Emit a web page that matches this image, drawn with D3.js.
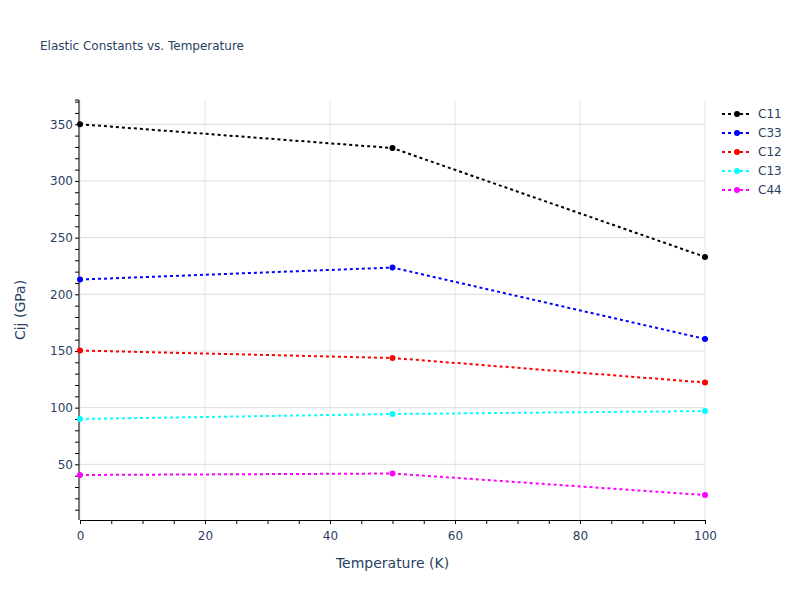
<!DOCTYPE html>
<html><head><meta charset="utf-8">
<script src="https://cdn.jsdelivr.net/npm/d3@7"></script>
<style>body{margin:0;background:#fff;font-family:"DejaVu Sans",sans-serif;}</style>
</head><body><svg id="c" width="800" height="600"></svg>
<script>
const temperatures = [0, 50, 100];
const seriesNames = ["C11", "C33", "C12", "C13", "C44"];
const seriesColors = ["#000000", "#0000ff", "#ff0000", "#00ffff", "#ff00ff"];
const C11 = [350, 329, 233];
const C33 = [213, 223.6, 160.6];
const C12 = [150.4, 143.8, 122.2];
const C13 = [90, 94.4, 97];
const C44 = [40.6, 41.9, 22.9];
const seriesValues = [C11, C33, C12, C13, C44];
const xTicks = [0, 20, 40, 60, 80, 100];
const yTicks = [50, 100, 150, 200, 250, 300, 350];

const FONT = "DejaVu Sans";
const svg = d3.select("#c");
const txt = "#2a3f5f";
const L = 80, R = 705, T = 100, B = 520;
const x = d3.scaleLinear().domain([0, 100]).range([L, R]);
const y = d3.scaleLinear().domain([0.9, 371.4]).range([B, T]);

// grid
svg.append("g").selectAll("line").data(xTicks).join("line")
  .attr("x1", d => x(d)).attr("x2", d => x(d)).attr("y1", T).attr("y2", B)
  .attr("stroke", "#e5e5e5").attr("stroke-width", 1);
svg.append("g").selectAll("line").data(yTicks).join("line")
  .attr("x1", L).attr("x2", R).attr("y1", d => y(d)).attr("y2", d => y(d))
  .attr("stroke", "#dcdcdc").attr("stroke-width", 1);

// axes
const xAxis = d3.axisBottom(x).tickValues(d3.range(0, 101, 5)).tickSize(4)
  .tickFormat(d => xTicks.includes(d) ? d : "");
const gx = svg.append("g").attr("transform", `translate(0,${B})`).call(xAxis);
gx.select(".domain").attr("stroke", "#000");
gx.selectAll(".tick line").attr("stroke", "#000");
gx.selectAll("text").attr("fill", txt).attr("font-size", 12).attr("font-family", FONT).attr("dy", "1.1em");

const yAxis = d3.axisLeft(y).tickValues(d3.range(10, 371, 10)).tickSize(4)
  .tickFormat(d => yTicks.includes(d) ? d : "");
const gy = svg.append("g").attr("transform", `translate(${L - 1},0)`).call(yAxis);
gy.select(".domain").attr("stroke", "#000").attr("d", `M-4,${T}H0V${B}`);
gy.selectAll(".tick line").attr("stroke", "#000");
gy.selectAll("text").attr("fill", txt).attr("font-size", 12).attr("font-family", FONT).attr("x", -6);

// lines
const line = d3.line().x((d, i) => x(temperatures[i])).y(d => y(d));
seriesValues.forEach((vals, k) => {
  svg.append("path").datum(vals).attr("d", line)
    .attr("fill", "none").attr("stroke", seriesColors[k]).attr("stroke-width", 2)
    .attr("stroke-dasharray", "3,3");
  svg.append("g").selectAll("circle").data(vals).join("circle")
    .attr("cx", (d, i) => x(temperatures[i])).attr("cy", d => y(d)).attr("r", 3)
    .attr("fill", seriesColors[k]);
});

// legend
const lg = svg.append("g");
seriesNames.forEach((n, k) => {
  const yy = 114 + k * 19;
  lg.append("line").attr("x1", 722).attr("x2", 752).attr("y1", yy).attr("y2", yy)
    .attr("stroke", seriesColors[k]).attr("stroke-width", 2).attr("stroke-dasharray", "3,3");
  lg.append("circle").attr("cx", 737).attr("cy", yy).attr("r", 3).attr("fill", seriesColors[k]);
  lg.append("text").attr("x", 758).attr("y", yy + 4).text(n)
    .attr("fill", txt).attr("font-size", 12).attr("font-family", FONT);
});

// titles
svg.append("text").attr("x", 40).attr("y", 50).text("Elastic Constants vs. Temperature")
  .attr("fill", txt).attr("font-size", 12).attr("font-family", FONT);
svg.append("text").attr("x", (L + R) / 2).attr("y", 568).attr("text-anchor", "middle")
  .text("Temperature (K)").attr("fill", txt).attr("font-size", 14).attr("font-family", FONT);
svg.append("text").attr("transform", `translate(25,${(T + B) / 2}) rotate(-90)`)
  .attr("text-anchor", "middle").text("Cij (GPa)")
  .attr("fill", txt).attr("font-size", 14).attr("font-family", FONT);
</script></body></html>
